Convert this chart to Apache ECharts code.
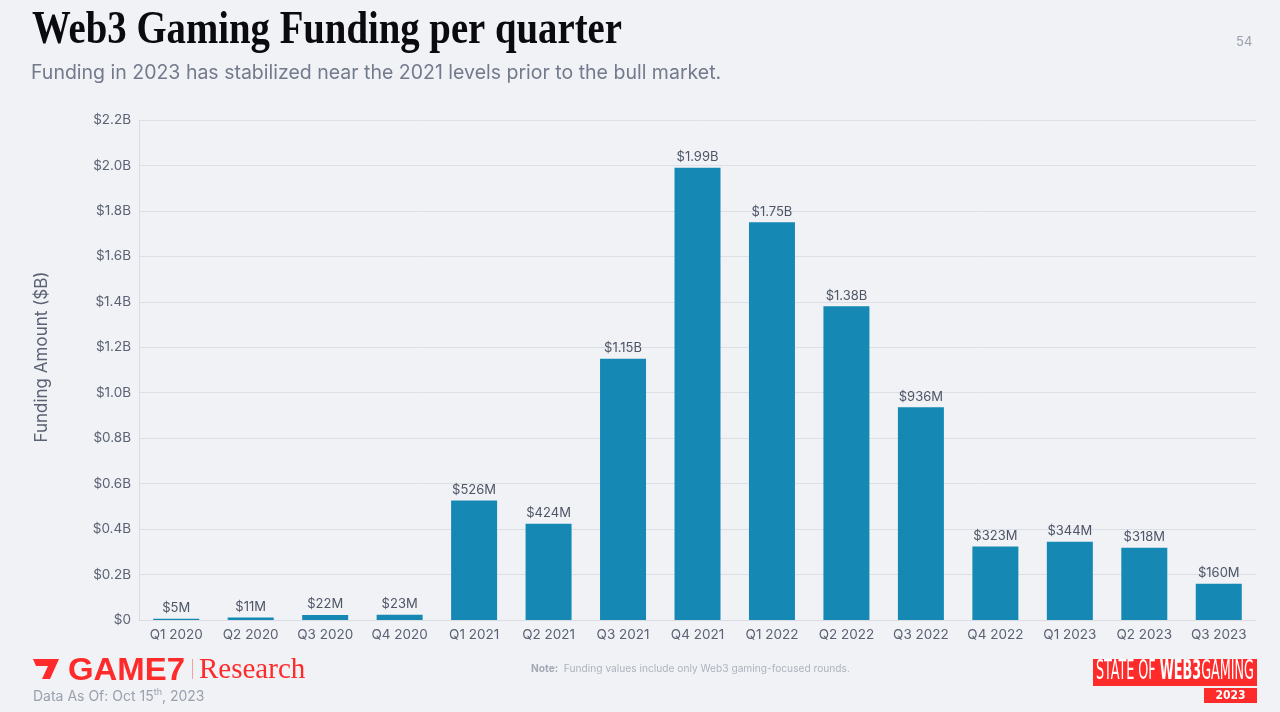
<!DOCTYPE html>
<html>
<head>
<meta charset="utf-8">
<script src="https://cdn.jsdelivr.net/npm/echarts@6/dist/echarts.min.js"></script>
<style>
html,body{margin:0;padding:0;background:#f0f2f6;}
#c{width:1280px;height:712px;}
</style>
</head>
<body>
<div id="c"></div>
<script>
const categories = ['Q1 2020','Q2 2020','Q3 2020','Q4 2020','Q1 2021','Q2 2021','Q3 2021','Q4 2021','Q1 2022','Q2 2022','Q3 2022','Q4 2022','Q1 2023','Q2 2023','Q3 2023'];
const fundingB = [0.005,0.011,0.022,0.023,0.526,0.424,1.15,1.99,1.75,1.38,0.936,0.323,0.344,0.318,0.160];
const valueLabels = ['$5M','$11M','$22M','$23M','$526M','$424M','$1.15B','$1.99B','$1.75B','$1.38B','$936M','$323M','$344M','$318M','$160M'];

const ctx = document.createElement('canvas').getContext('2d');
function measure(font, text){ ctx.font = font; return ctx.measureText(text).width; }

const red = '#ff2b2b';
const titleFont = 'bold 46px "Liberation Serif"';
const titleText = 'Web3 Gaming Funding per quarter';
const titleScale = 590 / measure(titleFont, titleText);
const gameFont = 'bold 31px "Liberation Sans"';
const gameScale = 117 / measure(gameFont, 'GAME7');
const badgeFont = '27px "DejaVu Sans Condensed"';
const badgeBold = 'bold 27px "DejaVu Sans Condensed"';
const badgeW = measure(badgeFont, 'STATE OF ') + measure(badgeBold, 'WEB3') + measure(badgeFont, 'GAMING');
const badgeScale = 158 / badgeW;

const chart = echarts.init(document.getElementById('c'));
chart.setOption({
  backgroundColor: '#f0f2f6',
  animation: false,
  grid: {left: 139, right: 24, top: 120, bottom: 92},
  xAxis: {
    type: 'category', data: categories,
    axisLine: {lineStyle: {color: '#d9dce2'}},
    axisTick: {show: false},
    axisLabel: {color: '#5b6273', fontFamily: 'Inter', fontSize: 13.5, margin: 8}
  },
  yAxis: {
    type: 'value', min: 0, max: 2.2, interval: 0.2,
    axisLine: {show: true, lineStyle: {color: '#d9dce2'}},
    axisTick: {show: false},
    splitLine: {lineStyle: {color: '#dcdfe5'}},
    axisLabel: {color: '#5b6273', fontFamily: 'Inter', fontSize: 13.5, margin: 8,
      formatter: v => v === 0 ? '$0' : '$' + v.toFixed(1) + 'B'}
  },
  series: [{
    type: 'bar', data: fundingB, barWidth: 46,
    itemStyle: {color: '#1589b3'},
    label: {show: true, position: 'top', distance: 4, color: '#4e5566', fontFamily: 'Inter', fontSize: 13,
      formatter: p => valueLabels[p.dataIndex]}
  }],
  graphic: [
    {type: 'text', x: 32, y: 8, scaleX: titleScale, style: {text: titleText, fill: '#0b0b0f', font: titleFont}},
    {type: 'text', x: 31, y: 63, style: {text: 'Funding in 2023 has stabilized near the 2021 levels prior to the bull market.', fill: '#737a8c', font: '19.5px Inter'}},
    {type: 'text', x: 42, y: 357, rotation: Math.PI / 2, style: {text: 'Funding Amount ($B)', fill: '#5b6273', font: '17px Inter', align: 'center', verticalAlign: 'middle'}},
    {type: 'text', x: 1236, y: 36, style: {text: '54', fill: '#9aa0ad', font: '13px Inter'}},
    {type: 'text', x: 531, y: 664, style: {
      text: '{b|Note:}  Funding values include only Web3 gaming-focused rounds.',
      rich: {b: {fill: '#a3a8b4', font: 'bold 10.2px Inter'}},
      fill: '#aeb3be', font: '10.2px Inter'}},
    {type: 'polygon', shape: {points: [[33,659],[59,659],[50,679],[42,679],[48,666],[36,666]]}, style: {fill: red}},
    {type: 'text', x: 68, y: 656, scaleX: gameScale, style: {text: 'GAME7', fill: red, font: gameFont}},
    {type: 'rect', shape: {x: 192, y: 659, width: 1, height: 20}, style: {fill: '#f4a0a0'}},
    {type: 'text', x: 199, y: 656, style: {text: 'Research', fill: red, font: '29px "Liberation Serif"'}},
    {type: 'text', x: 33, y: 688, style: {
      text: 'Data As Of: Oct 15{s|th}, 2023', fill: '#9aa0ad', font: '14px Inter',
      rich: {s: {font: '9px Inter', fill: '#9aa0ad', verticalAlign: 'top', padding: [0,0,8,0]}}}},
    {type: 'rect', shape: {x: 1093, y: 659, width: 164, height: 27}, style: {fill: red}},
    {type: 'text', x: 1096, y: 658, scaleX: badgeScale, style: {
      text: 'STATE OF {b|WEB3}GAMING', fill: '#ffffff', font: badgeFont,
      rich: {b: {font: badgeBold, fill: '#ffffff'}}}},
    {type: 'rect', shape: {x: 1204, y: 688, width: 53, height: 15}, style: {fill: red}},
    {type: 'text', x: 1230.5, y: 695.5, style: {text: '2023', fill: '#ffffff', font: 'bold 12px "DejaVu Sans Condensed"', align: 'center', verticalAlign: 'middle'}}
  ]
});
</script>
</body>
</html>
